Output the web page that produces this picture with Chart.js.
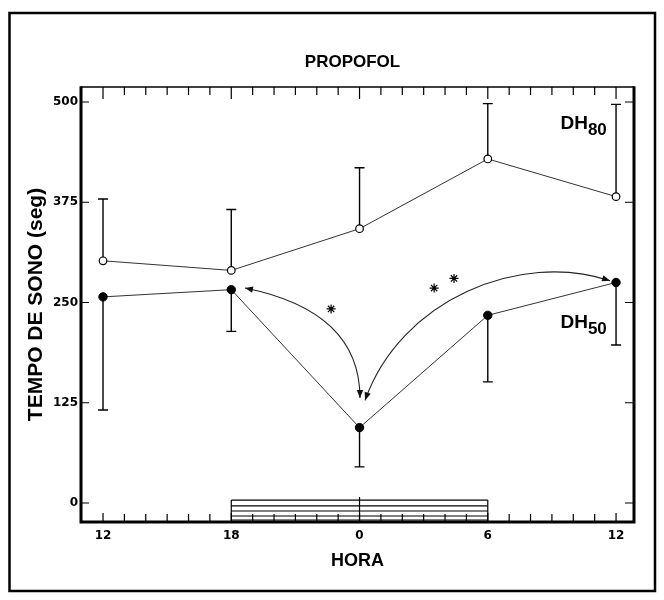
<!DOCTYPE html>
<html>
<head>
<meta charset="utf-8">
<script src="https://cdn.jsdelivr.net/npm/chart.js@4"></script>
<style>
  html, body { margin: 0; padding: 0; background: #fff; }
  #wrap { width: 664px; height: 600px; }
</style>
</head>
<body>
<div id="wrap"><canvas id="chart" width="664" height="600"></canvas></div>
<script>
// x = hours since 12h of day 1
const hours = [0, 6, 12, 18, 24];
const hourLabels = ["12", "18", "0", "6", "12"];
const yTicks = [0, 125, 250, 375, 500];

// tempo de sono (seg)
const dh80 = [302, 290, 342, 429, 382];
const dh80Upper = [379, 366, 418, 498, 497];
const dh50 = [257, 266, 94, 234, 275];
const dh50Lower = [116, 214, 45, 151, 197];

// asterisks
const starX = [10.67, 15.49, 16.42];
const starY = [242, 268, 280];

// dark period bar (18h - 6h)
const nightFrom = 6;
const nightTo = 18;
const nightStripes = [3.7, -3.7, -10, -16.2, -21.2];

// curved double arrows
const arrowLeftX = [6.64, 12.02, 12.02];
const arrowLeftY = [268, 239, 131];
const arrowRightX = [12.26, 13.9, 19.51, 23.72];
const arrowRightY = [128, 253, 315, 277];

const FONT = "'Liberation Sans', Arial, sans-serif";

function arrowHead(ctx, tx, ty, fx, fy) {
  const a = Math.atan2(ty - fy, tx - fx);
  const len = 8, w = 3.2;
  ctx.beginPath();
  ctx.moveTo(tx, ty);
  ctx.lineTo(tx - len * Math.cos(a) + w * Math.sin(a), ty - len * Math.sin(a) - w * Math.cos(a));
  ctx.lineTo(tx - len * Math.cos(a) - w * Math.sin(a), ty - len * Math.sin(a) + w * Math.cos(a));
  ctx.closePath();
  ctx.fill();
}

const decor = {
  id: "decor",
  beforeDraw(chart) {
    const { ctx } = chart;
    ctx.save();
    ctx.fillStyle = "#fff";
    ctx.fillRect(0, 0, chart.width, chart.height);
    ctx.strokeStyle = "#000";
    ctx.lineWidth = 2.5;
    ctx.strokeRect(9.5, 13, 645.5, 578);
    ctx.restore();
  },
  beforeDatasetsDraw(chart) {
    const { ctx, scales: { x, y } } = chart;
    ctx.save();
    ctx.strokeStyle = "#000";

    // night bar
    const x0 = x.getPixelForValue(nightFrom);
    const x1 = x.getPixelForValue(nightTo);
    const yb = chart.chartArea.bottom;
    ctx.lineWidth = 1.2;
    nightStripes.forEach((v) => {
      const py = y.getPixelForValue(v);
      ctx.beginPath();
      ctx.moveTo(x0, py);
      ctx.lineTo(x1, py);
      ctx.stroke();
    });
    ctx.beginPath();
    ctx.moveTo(x0, yb);
    ctx.lineTo(x0, y.getPixelForValue(nightStripes[0]));
    ctx.moveTo(x1, yb);
    ctx.lineTo(x1, y.getPixelForValue(nightStripes[0]));
    ctx.moveTo(x.getPixelForValue(12), yb);
    ctx.lineTo(x.getPixelForValue(12), y.getPixelForValue(7.5));
    ctx.stroke();

    // error bars
    ctx.lineWidth = 1.4;
    const cap = 5;
    const bar = (h, from, to) => {
      const px = x.getPixelForValue(h);
      const p0 = y.getPixelForValue(from);
      const p1 = y.getPixelForValue(to);
      ctx.beginPath();
      ctx.moveTo(px, p0);
      ctx.lineTo(px, p1);
      ctx.moveTo(px - cap, p1);
      ctx.lineTo(px + cap, p1);
      ctx.stroke();
    };
    hours.forEach((h, i) => {
      bar(h, dh80[i], dh80Upper[i]);
      bar(h, dh50[i], dh50Lower[i]);
    });
    ctx.restore();
  },
  afterDatasetsDraw(chart) {
    const { ctx, chartArea: a, scales: { x, y } } = chart;
    ctx.save();
    ctx.strokeStyle = "#000";
    ctx.fillStyle = "#000";

    // frame
    ctx.lineWidth = 1.5;
    ctx.beginPath();
    ctx.moveTo(a.left, a.top);
    ctx.lineTo(a.right, a.top);
    ctx.stroke();
    ctx.lineWidth = 3;
    ctx.beginPath();
    ctx.moveTo(a.left, a.top - 0.75);
    ctx.lineTo(a.left, a.bottom);
    ctx.lineTo(a.right, a.bottom);
    ctx.lineTo(a.right, a.top - 0.75);
    ctx.stroke();

    // inward ticks
    ctx.lineWidth = 1.2;
    ctx.beginPath();
    for (let h = 0; h <= 24; h++) {
      const px = x.getPixelForValue(h);
      const major = hours.includes(h);
      ctx.moveTo(px, a.top);
      ctx.lineTo(px, a.top + (major ? 12 : 8));
      ctx.moveTo(px, a.bottom);
      ctx.lineTo(px, a.bottom - (major ? 9 : 8));
    }
    yTicks.forEach((v) => {
      const py = y.getPixelForValue(v);
      ctx.moveTo(a.left, py);
      ctx.lineTo(a.left + 8, py);
      ctx.moveTo(a.right, py);
      ctx.lineTo(a.right - 9, py);
    });
    ctx.stroke();

    // arrows
    ctx.strokeStyle = "#222";
    ctx.fillStyle = "#111";
    ctx.lineWidth = 1.1;
    const L = arrowLeftX.map((v, i) => [x.getPixelForValue(v), y.getPixelForValue(arrowLeftY[i])]);
    ctx.beginPath();
    ctx.moveTo(L[0][0], L[0][1]);
    ctx.quadraticCurveTo(L[1][0], L[1][1], L[2][0], L[2][1]);
    ctx.stroke();
    arrowHead(ctx, L[0][0], L[0][1], L[1][0], L[1][1]);
    arrowHead(ctx, L[2][0], L[2][1], L[1][0], L[1][1]);

    const R = arrowRightX.map((v, i) => [x.getPixelForValue(v), y.getPixelForValue(arrowRightY[i])]);
    ctx.beginPath();
    ctx.moveTo(R[0][0], R[0][1]);
    ctx.bezierCurveTo(R[1][0], R[1][1], R[2][0], R[2][1], R[3][0], R[3][1]);
    ctx.stroke();
    arrowHead(ctx, R[0][0], R[0][1], R[1][0], R[1][1]);
    arrowHead(ctx, R[3][0], R[3][1], R[2][0], R[2][1]);

    // series labels
    ctx.fillStyle = "#000";
    ctx.textBaseline = "alphabetic";
    ctx.textAlign = "left";
    const label = (sub, hx, vy) => {
      const px = x.getPixelForValue(hx);
      const py = y.getPixelForValue(vy);
      ctx.font = "bold 19px " + FONT;
      ctx.fillText("DH", px, py);
      const w = ctx.measureText("DH").width;
      ctx.font = "bold 17px " + FONT;
      ctx.fillText(sub, px + w, py + 6);
    };
    label("80", 21.4, 466);
    label("50", 21.4, 218);

    // title
    ctx.font = "bold 17px " + FONT;
    ctx.textAlign = "center";
    ctx.textBaseline = "middle";
    ctx.fillText("PROPOFOL", (a.left + a.right) / 2 - 5, 62);
    ctx.restore();
  }
};

new Chart(document.getElementById("chart"), {
  type: "scatter",
  data: {
    datasets: [
      {
        label: "DH80",
        data: hours.map((h, i) => ({ x: h, y: dh80[i] })),
        showLine: true,
        borderColor: "#333",
        borderWidth: 1,
        pointRadius: 3.8,
        pointBackgroundColor: "#fff",
        pointBorderColor: "#000",
        pointBorderWidth: 1.2
      },
      {
        label: "DH50",
        data: hours.map((h, i) => ({ x: h, y: dh50[i] })),
        showLine: true,
        borderColor: "#333",
        borderWidth: 1,
        pointRadius: 4.2,
        pointBackgroundColor: "#000",
        pointBorderColor: "#000",
        pointBorderWidth: 1
      },
      {
        label: "*",
        data: starX.map((v, i) => ({ x: v, y: starY[i] })),
        showLine: false,
        pointStyle: "star",
        pointRadius: 4.5,
        pointBorderColor: "#000",
        pointBorderWidth: 1.2
      }
    ]
  },
  options: {
    responsive: false,
    animation: false,
    devicePixelRatio: 1,
    layout: { padding: { top: 87, right: 30, bottom: 0, left: 0 } },
    plugins: {
      legend: { display: false },
      tooltip: { enabled: false },
      title: { display: false }
    },
    scales: {
      x: {
        type: "linear",
        min: -1.03,
        max: 24.84,
        afterBuildTicks: (s) => { s.ticks = hours.map((v) => ({ value: v })); },
        afterFit: (s) => { s.height = 78; },
        grid: { display: false, drawTicks: false },
        border: { display: false },
        ticks: {
          padding: 7,
          maxRotation: 0,
          color: "#000",
          font: { family: "'DejaVu Sans', sans-serif", weight: "bold", size: 12 },
          callback: (v) => hourLabels[hours.indexOf(v)]
        },
        title: {
          display: true,
          text: "HORA",
          color: "#000",
          font: { family: FONT, weight: "bold", size: 18 },
          padding: { top: 0, bottom: 28 }
        }
      },
      y: {
        type: "linear",
        min: -23.7,
        max: 518.7,
        afterBuildTicks: (s) => { s.ticks = yTicks.map((v) => ({ value: v })); },
        afterFit: (s) => { s.width = 81; },
        grid: { display: false, drawTicks: false },
        border: { display: false },
        ticks: {
          padding: 3,
          color: "#000",
          font: { family: "'DejaVu Sans', sans-serif", weight: "bold", size: 12 },
          callback: (v) => String(v)
        },
        title: {
          display: true,
          text: "TEMPO DE SONO (seg)",
          color: "#000",
          font: { family: FONT, weight: "bold", size: 21 },
          padding: { top: 24, bottom: 0 }
        }
      }
    }
  },
  plugins: [decor]
});
</script>
</body>
</html>
